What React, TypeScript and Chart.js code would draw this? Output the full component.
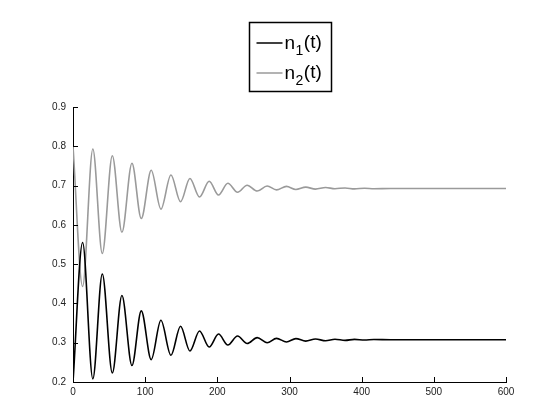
import React, { useEffect, useRef } from "react";
import { Chart, registerables } from "chart.js";

Chart.register(...registerables);

const tPoints = [
  0, 13.3, 27.5, 40.6, 54.5, 67.8, 81.7, 94.6, 108.4, 121.8, 135.7, 149, 162,
  175.3, 188.7, 201.6, 214.6, 228, 241.3, 255.2, 269, 282, 295.8, 308.8, 322.5,
  336, 350, 363, 377, 390, 404, 417, 440, 500, 600,
];
const n1Values = [
  0.2, 0.555, 0.208, 0.475, 0.223, 0.42, 0.242, 0.381, 0.257, 0.357, 0.268,
  0.342, 0.279, 0.33, 0.289, 0.322, 0.294, 0.317, 0.298, 0.313, 0.3, 0.311,
  0.302, 0.3105, 0.304, 0.3095, 0.305, 0.309, 0.306, 0.3085, 0.3068, 0.308,
  0.3075, 0.3075, 0.3075,
];
const n2Values = [
  0.8, 0.443, 0.793, 0.527, 0.776, 0.581, 0.757, 0.616, 0.739, 0.64, 0.727,
  0.659, 0.718, 0.671, 0.711, 0.676, 0.706, 0.683, 0.701, 0.686, 0.699, 0.689,
  0.698, 0.69, 0.696, 0.691, 0.695, 0.692, 0.694, 0.6915, 0.6932, 0.692,
  0.6925, 0.6925, 0.6925,
];
const xTicks = [0, 100, 200, 300, 400, 500, 600];
const yTicks = [0.2, 0.3, 0.4, 0.5, 0.6, 0.7, 0.8, 0.9];
const yTickLabels = ["0.2", "0.3", "0.4", "0.5", "0.6", "0.7", "0.8", "0.9"];
// legend text: base, subscript, suffix
const legendParts: [string, string, string][] = [
  ["n", "1", "(t)"],
  ["n", "2", "(t)"],
];
const seriesColors = ["#000000", "#9a9a9a"];

const FONT = '"Liberation Sans", Arial, Helvetica, sans-serif';

const insideTicks = {
  id: "insideTicks",
  afterDatasetsDraw(chart: any) {
    const { ctx, chartArea, scales } = chart;
    const x = scales.x;
    const y = scales.y;
    ctx.save();
    ctx.strokeStyle = "#000";
    ctx.lineWidth = 1;
    ctx.beginPath();
    xTicks.forEach((v) => {
      const px = Math.round(x.getPixelForValue(v)) + 0.5;
      ctx.moveTo(px, chartArea.bottom);
      ctx.lineTo(px, chartArea.bottom - 5);
    });
    yTicks.forEach((v) => {
      const py = Math.round(y.getPixelForValue(v)) + 0.5;
      ctx.moveTo(chartArea.left, py);
      ctx.lineTo(chartArea.left + 5, py);
    });
    ctx.stroke();
    ctx.restore();
  },
};

const subLegend = {
  id: "subLegend",
  afterDraw(chart: any) {
    const { ctx, chartArea } = chart;
    const cx = (chartArea.left + chartArea.right) / 2;
    const boxW = 82;
    const boxH = 69;
    const bx = Math.round(cx - boxW / 2) + 0.5;
    const by = 22.5;
    ctx.save();
    ctx.fillStyle = "#fff";
    ctx.fillRect(bx, by, boxW, boxH);
    ctx.strokeStyle = "#000";
    ctx.lineWidth = 1.5;
    ctx.strokeRect(bx, by, boxW, boxH);
    const rows = [43, 73];
    legendParts.forEach((parts, i) => {
      const ry = rows[i];
      ctx.strokeStyle = seriesColors[i];
      ctx.lineWidth = 1.5;
      ctx.beginPath();
      ctx.moveTo(bx + 7, ry);
      ctx.lineTo(bx + 33, ry);
      ctx.stroke();
      ctx.fillStyle = "#000";
      ctx.textBaseline = "alphabetic";
      let tx = bx + 35;
      const base = ry + 6;
      ctx.font = `19px ${FONT}`;
      ctx.fillText(parts[0], tx, base);
      tx += ctx.measureText(parts[0]).width + 0.5;
      ctx.font = `14px ${FONT}`;
      ctx.fillText(parts[1], tx, base + 6);
      tx += ctx.measureText(parts[1]).width + 0.5;
      ctx.font = `19px ${FONT}`;
      ctx.fillText(parts[2], tx, base - 1);
    });
    ctx.restore();
  },
};

export default function App() {
  const canvasRef = useRef<HTMLCanvasElement | null>(null);

  useEffect(() => {
    const canvas = canvasRef.current;
    if (!canvas) return;
    const chart = new Chart(canvas, {
      type: "line",
      data: {
        datasets: [
          {
            label: "n1(t)",
            data: tPoints.map((t, i) => ({ x: t, y: n1Values[i] })),
            borderColor: seriesColors[0],
            borderWidth: 1.6,
            pointRadius: 0,
            fill: false,
            cubicInterpolationMode: "monotone",
          },
          {
            label: "n2(t)",
            data: tPoints.map((t, i) => ({ x: t, y: n2Values[i] })),
            borderColor: seriesColors[1],
            borderWidth: 1.6,
            pointRadius: 0,
            fill: false,
            cubicInterpolationMode: "monotone",
          },
        ],
      },
      options: {
        responsive: false,
        animation: false,
        devicePixelRatio: 1,
        layout: { padding: { left: 33, right: 54, top: 107, bottom: 8 } },
        plugins: {
          legend: { display: false },
          tooltip: { enabled: false },
        },
        scales: {
          x: {
            type: "linear",
            min: 0,
            max: 600,
            afterBuildTicks: (s: any) => {
              s.ticks = xTicks.map((v) => ({ value: v }));
            },
            afterFit: (s: any) => {
              s.height = 30;
            },
            ticks: {
              font: { family: FONT, size: 10 },
              color: "#222",
              padding: 4,
              maxRotation: 0,
              autoSkip: false,
              callback: (v: any) => String(v),
            },
            grid: { drawOnChartArea: false, drawTicks: false },
            border: { display: true, color: "#000", width: 1 },
          },
          y: {
            type: "linear",
            min: 0.2,
            max: 0.9,
            afterBuildTicks: (s: any) => {
              s.ticks = yTicks.map((v) => ({ value: v }));
            },
            afterFit: (s: any) => {
              s.width = 40;
            },
            ticks: {
              font: { family: FONT, size: 10 },
              color: "#222",
              padding: 7,
              autoSkip: false,
              callback: (v: any) => {
                const idx = yTicks.findIndex((t) => Math.abs(t - Number(v)) < 1e-6);
                return idx >= 0 ? yTickLabels[idx] : "";
              },
            },
            grid: { drawOnChartArea: false, drawTicks: false },
            border: { display: true, color: "#000", width: 1 },
          },
        },
      },
      plugins: [insideTicks, subLegend],
    });
    return () => chart.destroy();
  }, []);

  return (
    <div style={{ position: "fixed", left: 0, top: 0, width: 560, height: 420, background: "#fff" }}>
      <canvas ref={canvasRef} width={560} height={420} />
    </div>
  );
}
